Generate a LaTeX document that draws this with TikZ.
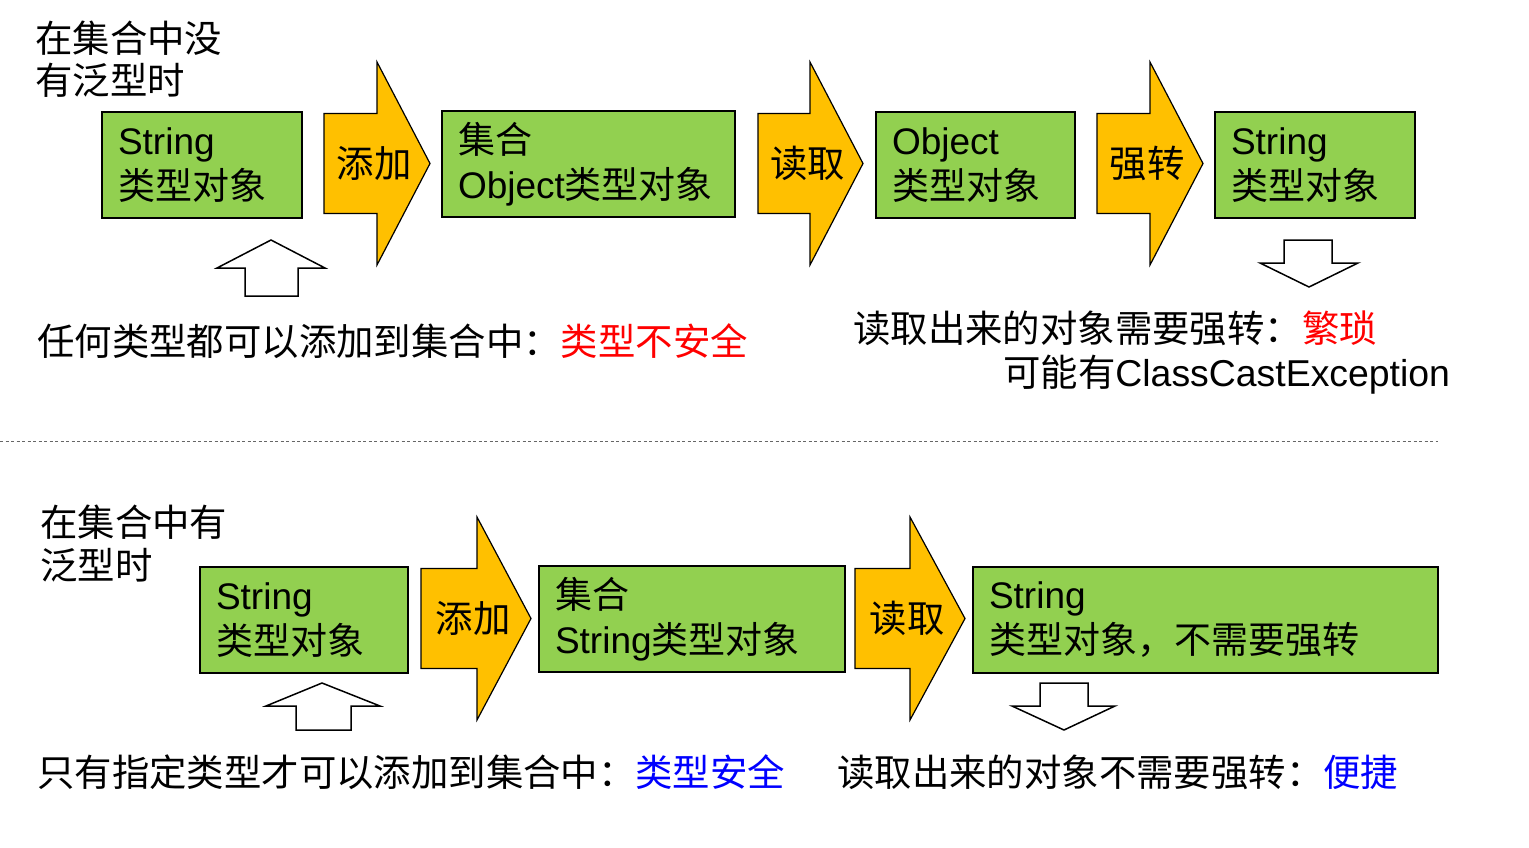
\documentclass[tikz,border=0pt]{standalone}
\usepackage{fontspec}
\setmainfont{Noto Sans CJK SC}
\newfontfamily\lat{Liberation Sans}
\usepackage{xcolor}
\definecolor{boxgreen}{HTML}{92D050}
\definecolor{arrowgold}{HTML}{FFC000}
\definecolor{badred}{HTML}{FF0000}
\definecolor{goodblue}{HTML}{0000FF}
\usetikzlibrary{calc}
\tikzset{
	typebox/.style={draw=black,line width=2pt,fill=boxgreen,anchor=north west,
		inner xsep=16pt,inner ysep=0pt,minimum height=106pt,align=left,
		font=\fontsize{37}{45}\selectfont},
	flowarrow/.style={draw=black,line width=1.2pt,fill=arrowgold,line join=miter},
	hollowarrow/.style={draw=black,line width=1.5pt,fill=white,line join=miter},
	caption/.style={anchor=west,inner sep=0pt,font=\fontsize{37.4}{42}\selectfont},
}

\begin{document}
\begin{tikzpicture}[x=1pt,y=-1pt]
		\useasboundingbox (0,0) rectangle (1529,847);
		% without generics
		\node[caption] (titleA1) at (35,38) {在集合中没};
		\node[caption] (titleA2) at (35,80) {有泛型时};
		\node[typebox,text width=168pt] (strBox) at (101,111) {{\lat String}\\类型对象};
		\node[typebox,text width=261pt] (objColl) at (441,110) {集合\\{\lat Object}类型对象};
		\node[typebox,text width=167pt] (objBox) at (875,111) {{\lat Object}\\类型对象};
		\node[typebox,text width=168pt] (castBox) at (1214,111) {{\lat String}\\类型对象};
		\foreach \l/\h/\t/\m/\n/\txt in {324/377/430/163.5/addA/添加,758/810/863/163.5/readA/读取,1097/1150/1203/163.5/castA/强转,421/477/531/618.5/addB/添加,855/910/965/618.5/readB/读取}{
			\draw[flowarrow] (\l,\m-50) -- (\h,\m-50) -- (\h,\m-101.5) -- (\t,\m) -- (\h,\m+101.5) -- (\h,\m+50) -- (\l,\m+50) -- cycle;
			\node[caption,anchor=center] (\n) at ({(\l+\t)/2-3},\m) {\txt};
		}
		\draw[hollowarrow] (245,296) -- (245,268) -- (217,268) -- (271,240) -- (325,268) -- (298,268) -- (298,296) -- cycle;
		\draw[hollowarrow] (1284,240) -- (1332,240) -- (1332,263) -- (1358,263) -- (1309,287) -- (1260,263) -- (1284,263) -- cycle;
		\node[caption] (unsafe) at (37,341) {任何类型都可以添加到集合中：\textcolor{badred}{类型不安全}};
		\node[caption] (tedious) at (853,328) {读取出来的对象需要强转：\textcolor{badred}{繁琐}};
		\node[caption] (cce) at (1003,375) {可能有{\lat ClassCastException}};
		% separator
		\draw[gray!80!black,line width=1pt,dash pattern=on 3pt off 2.5pt] (0,441) -- (1438,441);
		% with generics
		\node[caption] (titleB1) at (40,522) {在集合中有};
		\node[caption] (titleB2) at (40,565) {泛型时};
		\node[typebox,text width=176pt] (strBoxB) at (199,566) {{\lat String}\\类型对象};
		\node[typebox,text width=274pt] (strColl) at (538,565) {集合\\{\lat String}类型对象};
		\node[typebox,text width=433pt] (strOut) at (972,566) {{\lat String}\\类型对象，不需要强转};
		\draw[hollowarrow] (296,730) -- (296,706) -- (266,706) -- (322,683) -- (380,706) -- (351,706) -- (351,730) -- cycle;
		\draw[hollowarrow] (1040,683) -- (1088,683) -- (1088,706) -- (1115,706) -- (1064,730) -- (1012,706) -- (1040,706) -- cycle;
		\node[caption] (safe) at (37,772) {只有指定类型才可以添加到集合中：\textcolor{goodblue}{类型安全}};
		\node[caption] (handy) at (837,772) {读取出来的对象不需要强转：\textcolor{goodblue}{便捷}};
		\end{tikzpicture}
\end{document}
